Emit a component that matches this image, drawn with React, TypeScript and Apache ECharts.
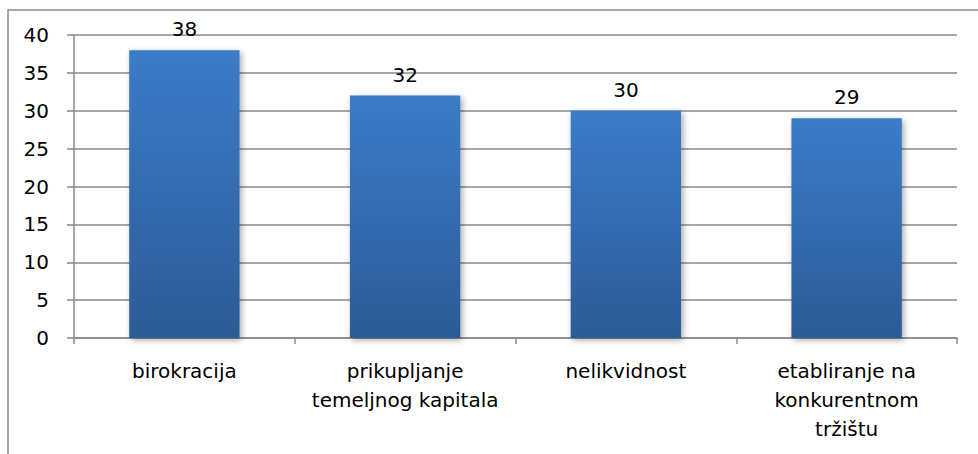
import React, { useEffect, useRef } from "react";
import * as echarts from "echarts";

const categories = [
  "birokracija",
  "prikupljanje\ntemeljnog kapitala",
  "nelikvidnost",
  "etabliranje na\nkonkurentnom\ntržištu",
];
const values = [38, 32, 30, 29];
const yTicks = { min: 0, max: 40, interval: 5 };

const FONT = "'DejaVu Sans', sans-serif";

export default function App() {
  const ref = useRef<HTMLDivElement>(null);
  useEffect(() => {
    if (!ref.current) return;
    const chart = echarts.init(ref.current, undefined, { renderer: "svg" });
    chart.setOption({
      animation: false,
      backgroundColor: "#ffffff",
      graphic: [
        {
          type: "rect",
          shape: { x: 8, y: 10, width: 980, height: 460 },
          style: { fill: "none", stroke: "#8a8a8a", lineWidth: 1.5 },
          silent: true,
          z: -1,
        },
      ],
      grid: { left: 74, right: 21, top: 35, bottom: 116, containLabel: false },
      xAxis: {
        type: "category",
        data: categories,
        axisLine: { show: true, lineStyle: { color: "#8a8a8a", width: 1.5 } },
        axisTick: { show: true, length: 6, alignWithLabel: false, lineStyle: { color: "#8a8a8a", width: 1.5 } },
        axisLabel: {
          color: "#000",
          fontFamily: FONT,
          fontSize: 20,
          lineHeight: 29,
          margin: 18,
          interval: 0,
        },
      },
      yAxis: {
        type: "value",
        min: yTicks.min,
        max: yTicks.max,
        interval: yTicks.interval,
        axisLine: { show: true, lineStyle: { color: "#8a8a8a", width: 1.5 } },
        axisTick: { show: true, length: 7, lineStyle: { color: "#8a8a8a", width: 1.5 } },
        splitLine: { show: true, lineStyle: { color: "#8a8a8a", width: 1.5 } },
        axisLabel: { color: "#000", fontFamily: FONT, fontSize: 20, margin: 25 },
      },
      series: [
        {
          type: "bar",
          data: values,
          barWidth: "50%",
          itemStyle: {
            color: new echarts.graphic.LinearGradient(0, 0, 0, 1, [
              { offset: 0, color: "#3b7cc9" },
              { offset: 1, color: "#2c5b97" },
            ]),
            shadowColor: "rgba(0,0,0,0.35)",
            shadowBlur: 6,
            shadowOffsetX: 2,
            shadowOffsetY: 2,
          },
          label: {
            show: true,
            position: "top",
            distance: 11,
            color: "#000",
            fontFamily: FONT,
            fontSize: 20,
          },
        },
      ],
    });
    return () => chart.dispose();
  }, []);
  return <div ref={ref} style={{ width: 978, height: 454, position: "absolute", left: 0, top: 0 }} />;
}
